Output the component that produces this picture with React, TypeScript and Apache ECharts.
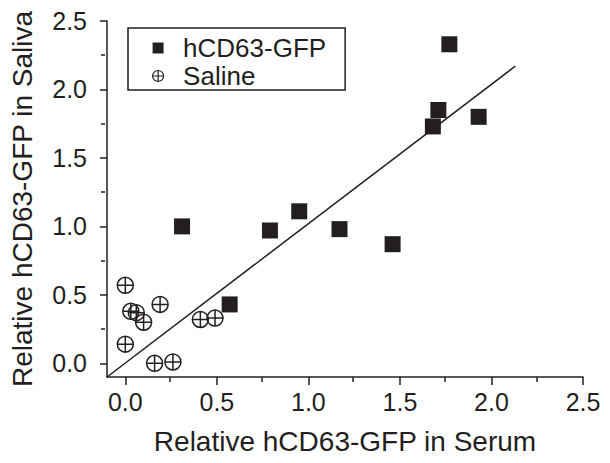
import React, { useEffect, useRef } from "react";
import * as echarts from "echarts";

const INK = "#231f20";
const FONT = "'Liberation Sans', Arial, Helvetica, sans-serif";

const gfpX = [0.31, 0.57, 0.79, 0.95, 1.17, 1.46, 1.68, 1.71, 1.77, 1.93];
const gfpY = [1.0, 0.43, 0.97, 1.11, 0.98, 0.87, 1.73, 1.85, 2.33, 1.8];

const salineX = [0.0, 0.0, 0.03, 0.06, 0.1, 0.19, 0.16, 0.26, 0.41, 0.49];
const salineY = [0.57, 0.14, 0.38, 0.37, 0.3, 0.43, 0.0, 0.01, 0.32, 0.33];

const fitX = [-0.1, 2.13];
const fitY = [-0.1, 2.17];

const majorTicks = [0, 0.5, 1.0, 1.5, 2.0, 2.5];
const minorTicksX = [0.25, 0.75, 1.25, 1.75, 2.25];
const minorTicksY = [0.25, 0.75, 1.25, 1.75, 2.25];

const seriesNames = ["hCD63-GFP", "Saline"];

const SQUARE = "path://M0,0H10V10H0Z";
const CROSS_CIRCLE =
  "path://M8,0A8,8,0,1,1,8,16A8,8,0,1,1,8,0ZM0,8L16,8M8,0L8,16";

export default function App() {
  const ref = useRef<HTMLDivElement>(null);
  useEffect(() => {
    if (!ref.current) return;
    const chart = echarts.init(ref.current, undefined, { renderer: "svg" });
    const zip = (xs: number[], ys: number[]) => xs.map((x, i) => [x, ys[i]]);
    const lab = {
      fontSize: 25,
      color: INK,
      fontFamily: FONT,
      formatter: (v: number) => v.toFixed(1),
    };
    const gridRect = { left: 105, right: 27, top: 21, bottom: 86 };
    chart.setOption({
      animation: false,
      backgroundColor: "#fff",
      grid: [gridRect, { ...gridRect }],
      legend: {
        orient: "vertical",
        left: 128,
        top: 28,
        padding: [7, 19, 1, 24],
        itemWidth: 40,
        itemHeight: 11,
        itemGap: 2,
        borderColor: INK,
        borderWidth: 1.5,
        borderRadius: 0,
        textStyle: { fontSize: 26, color: INK, fontFamily: FONT },
        data: [
          { name: seriesNames[0], icon: SQUARE, itemStyle: { color: INK, opacity: 1 } },
          {
            name: seriesNames[1],
            icon: CROSS_CIRCLE,
            itemStyle: { color: "rgba(0,0,0,0)", borderColor: INK, borderWidth: 1.2, opacity: 1 },
          },
        ],
      },
      xAxis: [
        {
          type: "value",
          gridIndex: 0,
          min: -0.1,
          max: 2.5,
          name: "Relative hCD63-GFP in Serum",
          nameLocation: "middle",
          nameGap: 50,
          nameTextStyle: { fontSize: 28, color: INK, fontFamily: FONT },
          axisLine: { show: true, onZero: false, lineStyle: { color: INK, width: 1.5 } },
          axisTick: { show: true, length: 8, customValues: majorTicks, lineStyle: { color: INK, width: 1.5 } },
          axisLabel: { ...lab, margin: 12, customValues: majorTicks },
          splitLine: { show: false },
        },
        {
          type: "value",
          gridIndex: 1,
          min: -0.1,
          max: 2.5,
          position: "bottom",
          axisLine: { show: false, onZero: false },
          axisTick: { show: true, length: 5, customValues: minorTicksX, lineStyle: { color: INK, width: 1.5 } },
          axisLabel: { show: false },
          splitLine: { show: false },
        },
      ],
      yAxis: [
        {
          type: "value",
          gridIndex: 0,
          min: -0.1,
          max: 2.5,
          name: "Relative hCD63-GFP in Saliva",
          nameLocation: "middle",
          nameGap: 71,
          nameTextStyle: { fontSize: 28, color: INK, fontFamily: FONT },
          axisLine: { show: true, onZero: false, lineStyle: { color: INK, width: 1.5 } },
          axisTick: { show: true, length: 7, customValues: majorTicks, lineStyle: { color: INK, width: 1.5 } },
          axisLabel: { ...lab, margin: 20, customValues: majorTicks },
          splitLine: { show: false },
        },
        {
          type: "value",
          gridIndex: 1,
          min: -0.1,
          max: 2.5,
          position: "left",
          axisLine: { show: false, onZero: false },
          axisTick: { show: true, length: 4, customValues: minorTicksY, lineStyle: { color: INK, width: 1.5 } },
          axisLabel: { show: false },
          splitLine: { show: false },
        },
      ],
      series: [
        {
          name: "fit",
          type: "line",
          data: zip(fitX, fitY),
          symbol: "none",
          lineStyle: { color: INK, width: 1.5 },
          silent: true,
        },
        {
          name: seriesNames[0],
          type: "scatter",
          data: zip(gfpX, gfpY),
          symbol: "rect",
          symbolSize: 16,
          itemStyle: { color: INK, opacity: 1 },
        },
        {
          name: seriesNames[1],
          type: "scatter",
          data: zip(salineX, salineY),
          symbol: CROSS_CIRCLE,
          symbolSize: 16,
          itemStyle: { color: "rgba(0,0,0,0)", borderColor: INK, borderWidth: 1.5, opacity: 1 },
        },
      ],
    });
    return () => chart.dispose();
  }, []);
  return (
    <div
      ref={ref}
      style={{ position: "fixed", left: 0, top: 0, width: 610, height: 463 }}
    />
  );
}
